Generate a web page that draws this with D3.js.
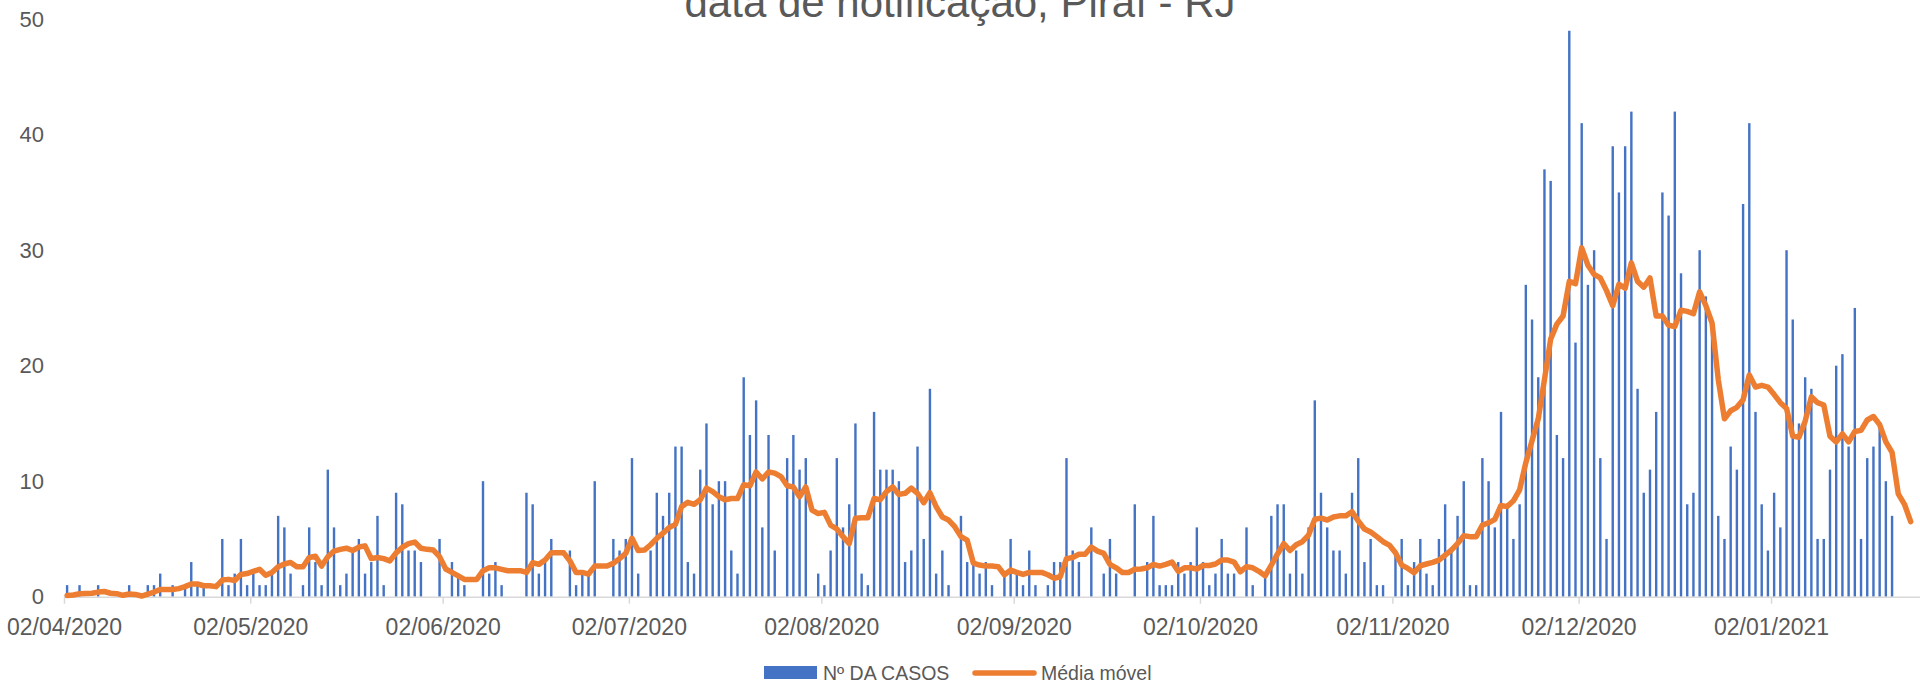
<!DOCTYPE html>
<html>
<head>
<meta charset="utf-8">
<script src="https://cdn.jsdelivr.net/npm/d3@7"></script>
<style>
  body { margin: 0; background: #ffffff; }
  svg { display: block; font-family: "Liberation Sans", Arial, sans-serif; }
</style>
</head>
<body>
<script>

// Colors
var blue = "#4472C4";
var orange = "#ED7D31";
var textGrey = "#595959";
var axisGrey = "#D9D9D9";

// Data: one value per day starting 02/04/2020
var firstDay = "02/04/2020";
var lastDayExclusive = "26/01/2021";

var casos = [
    1,0,1,0,0,1,0,0,0,0,
    1,0,0,1,1,2,0,1,0,1,
    3,1,1,0,0,5,1,2,5,1,
    2,1,1,2,7,6,2,0,1,6,
    3,1,11,6,1,2,4,5,2,3,
    7,1,0,9,8,4,4,3,0,0,
    5,0,3,2,1,0,0,10,2,3,
    1,0,0,0,9,8,2,3,5,0,
    0,4,1,2,2,10,0,0,5,4,
    5,12,2,0,4,9,7,9,13,13,
    3,2,11,15,8,10,10,4,2,19,
    14,17,6,14,4,0,12,14,11,12,
    0,2,1,4,12,6,8,15,2,1,
    16,11,11,11,10,3,4,13,5,18,
    2,4,1,0,7,3,3,2,3,1,
    0,2,5,2,1,4,1,0,1,3,
    3,12,4,3,0,6,0,2,5,2,
    0,0,8,0,3,7,1,1,1,3,
    2,3,6,3,1,2,5,2,2,0,
    6,1,0,2,7,8,8,2,4,2,
    6,17,9,6,4,4,2,9,12,3,
    5,1,1,0,4,5,1,3,5,2,
    1,5,8,4,7,10,1,1,12,10,
    6,16,8,5,8,27,24,19,37,36,
    14,12,49,22,41,27,30,12,5,39,
    35,39,42,18,9,11,16,35,33,42,
    28,8,9,30,26,24,7,5,13,11,
    34,41,16,8,4,9,6,30,24,15,
    19,18,5,5,11,20,21,13,25,5,
    12,13,15,10,7,0,0,0
];

var mediaMovel = [
    0.1,0.15,0.26,0.28,0.3,0.4,0.45,0.3,0.26,0.12,
    0.23,0.2,0.06,0.23,0.4,0.63,0.63,0.63,0.7,0.87,
    1.1,1.1,0.95,0.95,0.87,1.44,1.5,1.4,1.93,2.0,
    2.2,2.37,1.85,2.1,2.6,2.83,2.97,2.6,2.6,3.4,
    3.5,2.65,3.46,3.95,4.1,4.2,4.0,4.3,4.4,3.3,
    3.4,3.3,3.1,3.8,4.27,4.6,4.73,4.2,4.1,4.04,
    3.46,2.4,2.1,1.8,1.5,1.5,1.5,2.25,2.5,2.5,
    2.37,2.25,2.25,2.25,2.1,2.94,2.8,3.17,3.8,3.8,
    3.8,3.1,2.1,2.1,1.96,2.65,2.65,2.65,2.9,3.3,
    3.75,5.05,4.0,4.04,4.5,5.05,5.5,6.0,6.26,7.8,
    8.17,8.0,8.4,9.4,9.1,8.66,8.4,8.5,8.5,9.7,
    9.6,10.8,10.2,10.8,10.7,10.4,9.6,9.5,8.66,9.5,
    7.5,7.2,7.3,6.2,5.86,5.2,4.6,6.8,6.84,6.84,
    8.5,8.4,9.1,9.5,8.86,8.95,9.4,8.95,8.14,9.0,
    7.8,6.9,6.64,6.06,5.2,4.9,2.9,2.74,2.65,2.65,
    2.6,1.9,2.3,2.1,1.93,2.1,2.1,2.1,1.9,1.6,
    1.73,3.3,3.4,3.67,3.67,4.3,3.95,3.75,2.8,2.5,
    2.1,2.1,2.37,2.4,2.5,2.8,2.65,2.8,3.0,2.2,
    2.5,2.5,2.4,2.7,2.7,2.83,3.17,3.17,3.0,2.16,
    2.6,2.5,2.2,1.8,2.74,3.7,4.6,4.0,4.5,4.76,
    5.34,6.7,6.8,6.64,6.9,7.0,7.0,7.36,6.55,5.86,
    5.6,5.2,4.76,4.47,3.8,2.74,2.45,2.08,2.68,2.83,
    2.97,3.17,3.6,4.04,4.6,5.28,5.2,5.2,6.2,6.4,
    6.7,7.9,7.8,8.3,9.25,11.6,13.5,15.4,18.8,22.3,
    23.6,24.3,27.3,27.1,30.2,28.7,27.9,27.6,26.5,25.2,
    27.05,26.7,28.9,27.3,26.8,27.6,24.3,24.3,23.5,23.4,
    24.8,24.7,24.5,26.4,25.2,23.7,18.8,15.4,16.1,16.4,
    17.05,19.2,18.15,18.3,18.15,17.5,16.8,16.3,13.9,13.8,
    15.2,17.3,16.8,16.6,13.9,13.4,14.1,13.4,14.3,14.4,
    15.3,15.6,14.9,13.4,12.5,8.9,8.0,6.5
];

var tickLabels = ["02/04/2020", "02/05/2020", "02/06/2020", "02/07/2020", "02/08/2020",
    "02/09/2020", "02/10/2020", "02/11/2020", "02/12/2020", "02/01/2021"];
var yTicks = [0, 10, 20, 30, 40, 50];

var titleText = "data de notificação, Piraí - RJ";
var legendNames = ["Nº DA CASOS", "Média móvel"];


var parseDay = d3.utcParse("%d/%m/%Y");
var dias = d3.utcDay.range(parseDay(firstDay), parseDay(lastDayExclusive));

var width = 1920;
var height = 683;

var svgContainer = d3.select("body")
    .append("svg")
    .attr("width", width)
    .attr("height", height);

var x = d3.scaleUtc()
    .domain([parseDay(firstDay), parseDay(lastDayExclusive)])
    .range([64, 1920]);

var dayWidth = x(dias[1]) - x(dias[0]);
var barWidth = 2.4;

var y = d3.scaleLinear()
    .domain([0, 50])
    .range([596.7, 19.2]);

// Title (its first line sits above the top edge, as in the original)
svgContainer.append("text")
    .attr("x", 960)
    .attr("y", 17)
    .attr("text-anchor", "middle")
    .style("font-size", "42px")
    .style("fill", textGrey)
    .text(titleText);

// Y axis labels, no line, no gridlines
var yAxis = svgContainer.append("g")
    .attr("transform", "translate(44,0)")
    .call(d3.axisLeft(y).tickValues(yTicks).tickSize(0).tickPadding(0));
yAxis.select(".domain").remove();
yAxis.selectAll("text")
    .style("font-size", "22px")
    .style("fill", textGrey)
    .style("font-family", "Liberation Sans, Arial, sans-serif");

// Bars
svgContainer.append("g")
    .selectAll("rect")
    .data(casos)
    .enter()
    .append("rect")
    .attr("x", function (d, i) { return x(dias[i]) + (dayWidth - barWidth) / 2; })
    .attr("y", function (d) { return y(d); })
    .attr("width", barWidth)
    .attr("height", function (d) { return y(0) - y(d); })
    .style("fill", blue);

// X axis
var xAxis = svgContainer.append("g")
    .attr("transform", "translate(0," + y(0) + ")")
    .call(d3.axisBottom(x)
        .tickValues(tickLabels.map(parseDay))
        .tickFormat(d3.utcFormat("%d/%m/%Y"))
        .tickSize(7)
        .tickSizeOuter(0)
        .tickPadding(15));
xAxis.select(".domain")
    .style("stroke", axisGrey)
    .style("stroke-width", 1.5);
xAxis.selectAll(".tick line")
    .style("stroke", axisGrey)
    .style("stroke-width", 1.5);
xAxis.selectAll("text")
    .style("font-size", "23px")
    .style("fill", textGrey)
    .style("font-family", "Liberation Sans, Arial, sans-serif");

// Moving average line
var line = d3.line()
    .x(function (d, i) { return x(dias[i]) + dayWidth / 2; })
    .y(function (d) { return y(d); });

svgContainer.append("path")
    .datum(mediaMovel)
    .attr("d", line)
    .style("fill", "none")
    .style("stroke", orange)
    .style("stroke-width", 5.5)
    .style("stroke-linejoin", "round")
    .style("stroke-linecap", "round");

// Legend
var legend = svgContainer.append("g");

legend.append("rect")
    .attr("x", 764)
    .attr("y", 666)
    .attr("width", 53)
    .attr("height", 13)
    .style("fill", blue);

legend.append("text")
    .attr("x", 823)
    .attr("y", 680)
    .style("font-size", "19.5px")
    .style("fill", textGrey)
    .text(legendNames[0]);

legend.append("line")
    .attr("x1", 975)
    .attr("x2", 1034)
    .attr("y1", 673)
    .attr("y2", 673)
    .style("stroke", orange)
    .style("stroke-width", 5.5)
    .style("stroke-linecap", "round");

legend.append("text")
    .attr("x", 1041)
    .attr("y", 680)
    .style("font-size", "19.5px")
    .style("fill", textGrey)
    .text(legendNames[1]);

</script>
</body>
</html>
